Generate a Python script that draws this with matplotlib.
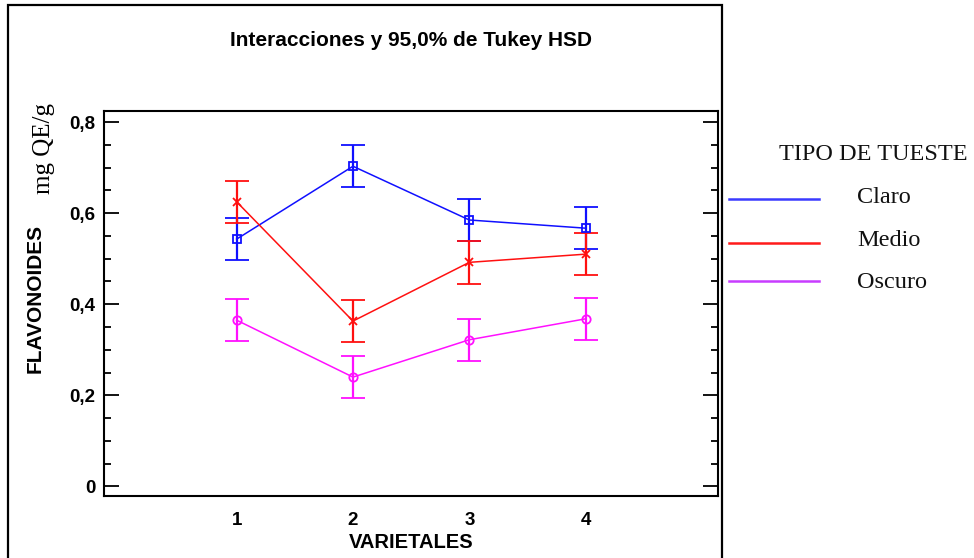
import matplotlib
matplotlib.use("Agg")
import matplotlib.pyplot as plt
from matplotlib.patches import Rectangle
from matplotlib.lines import Line2D
from matplotlib.ticker import FixedLocator, MultipleLocator

# ---- data ----
varietales = [1, 2, 3, 4]
xtick_labels = ["1", "2", "3", "4"]
claro = [0.543, 0.703, 0.585, 0.567]
medio = [0.625, 0.363, 0.492, 0.510]
oscuro = [0.365, 0.240, 0.322, 0.368]
hsd_half = [0.0465, 0.0465, 0.0465, 0.0465]
series_names = ["Claro", "Medio", "Oscuro"]
yticks = [0, 0.2, 0.4, 0.6, 0.8]
ytick_labels = ["0", "0,2", "0,4", "0,6", "0,8"]

W, H = 974, 558
fig = plt.figure(figsize=(W / 100, H / 100), dpi=100)
fig.patch.set_facecolor("white")

def fx(px):
    return px / W

def fy(py):
    return 1 - py / H

ax = fig.add_axes([fx(104), fy(495.5), fx(718.3) - fx(104), fy(110.7) - fy(495.5)])

colors = ["#1010ff", "#ff1010", "#ff10ff"]
markers = ["s", "x", "o"]
for vals, c, m in zip([claro, medio, oscuro], colors, markers):
    ax.errorbar(varietales, vals, yerr=hsd_half, color=c, lw=1.1,
                marker=m, mfc="none", mec=c, ms=6, mew=1.3,
                capsize=8.3, capthick=1.6, elinewidth=1.6)

ax.set_xlim(-0.14, 5.14)
ax.set_ylim(-0.020, 0.825)

sans = ["Liberation Sans", "DejaVu Sans"]
serif = ["Liberation Serif", "DejaVu Serif"]

ax.xaxis.set_major_locator(FixedLocator(varietales))
ax.set_xticklabels(xtick_labels, fontfamily=sans, fontweight="bold", fontsize=13.5)
ax.tick_params(axis="x", length=0, pad=12)
ax.yaxis.set_major_locator(FixedLocator(yticks))
ax.set_yticklabels(ytick_labels, fontfamily=sans, fontweight="bold", fontsize=13.5)
ax.yaxis.set_minor_locator(MultipleLocator(0.05))
ax.tick_params(axis="y", which="both", direction="in", left=True, right=True,
               width=1.3, pad=6)
ax.tick_params(axis="y", which="major", length=11)
ax.tick_params(axis="y", which="minor", length=5)
for s in ax.spines.values():
    s.set_linewidth(1.5)

ax.set_xlabel("VARIETALES", fontfamily=sans, fontweight="bold", fontsize=14.5, labelpad=3)

# y label in two parts
fig.text(fx(35), fy(298), "FLAVONOIDES", rotation=90, ha="center", va="center",
         fontfamily=sans, fontweight="bold", fontsize=15)
fig.text(fx(44), fy(149), "mg QE/g", rotation=90, ha="center", va="center",
         fontfamily=serif, fontsize=18)

# title
fig.text(fx(411), fy(40), "Interacciones y 95,0% de Tukey HSD", ha="center", va="center",
         fontfamily=sans, fontweight="bold", fontsize=15)

# outer frame
fig.add_artist(Rectangle((fx(8), fy(575)), fx(722) - fx(8), fy(5) - fy(575),
                         fill=False, lw=1.6, ec="black", transform=fig.transFigure,
                         clip_on=False))

# legend (outside frame)
fig.text(fx(873), fy(155), "TIPO DE TUESTE", ha="center", va="center",
         fontfamily=serif, fontsize=17.5, color="#111111")
leg_colors = ["#3a3aff", "#ff1a1a", "#c83cff"]
leg_text_y = [197, 241, 282]
leg_line_y = [198.5, 242.5, 281]
for name, c, ty, ly in zip(series_names, leg_colors, leg_text_y, leg_line_y):
    fig.add_artist(Line2D([fx(729), fx(819)], [fy(ly), fy(ly)], color=c, lw=1.8,
                          transform=fig.transFigure))
    fig.text(fx(857), fy(ty), name, ha="left", va="center",
             fontfamily=serif, fontsize=17.5, color="#111111")

fig.savefig("out.png", dpi=100)
